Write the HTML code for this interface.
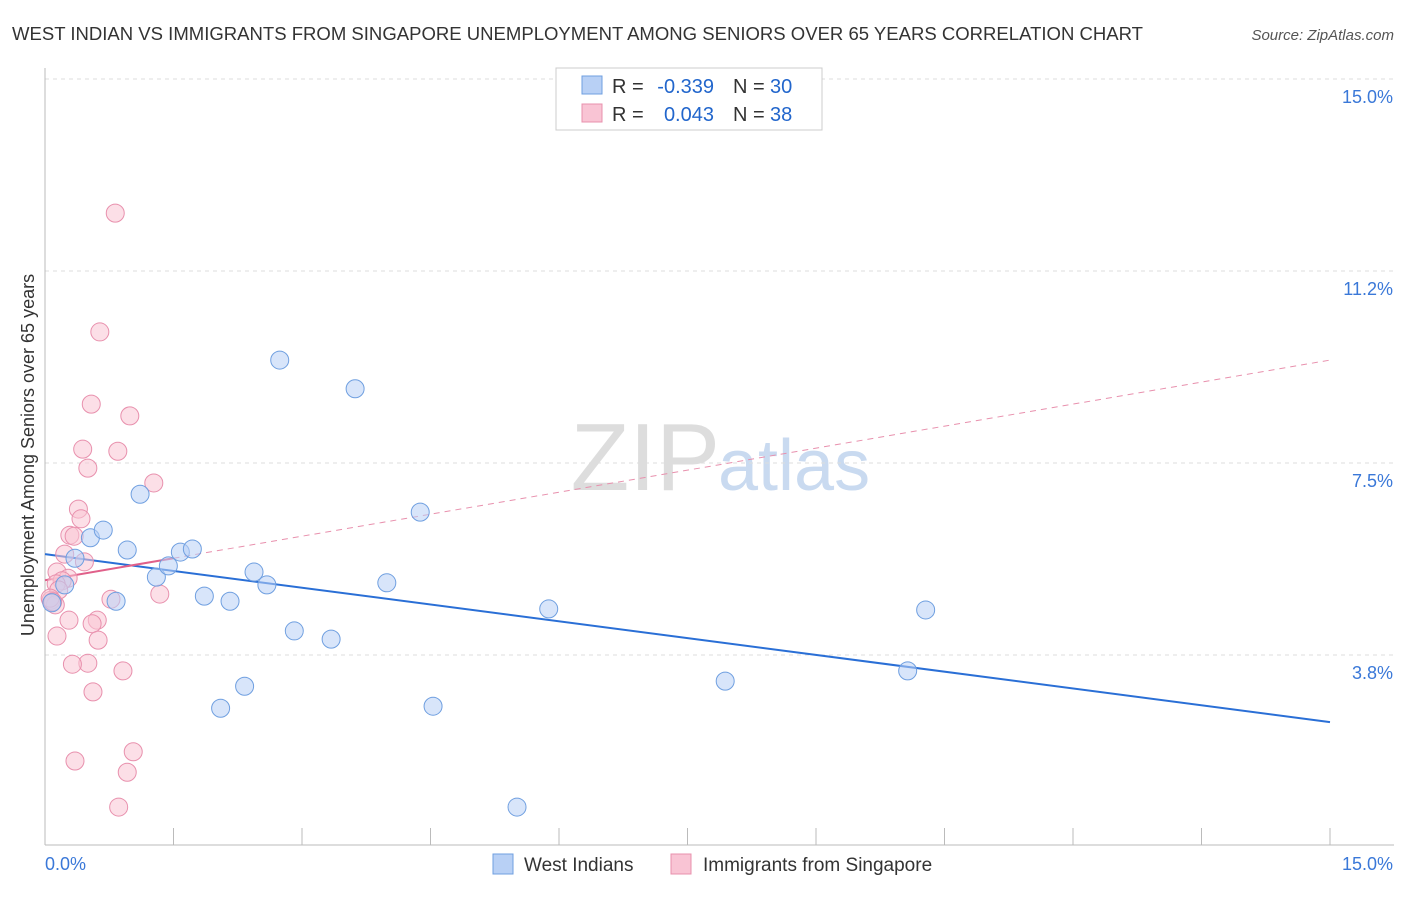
<!DOCTYPE html>
<html><head><meta charset="utf-8">
<style>
body{margin:0;background:#fff;font-family:"Liberation Sans",sans-serif;}
svg text{font-family:"Liberation Sans",sans-serif;}
</style></head>
<body>
<svg id="chart" width="1406" height="892" xmlns="http://www.w3.org/2000/svg">
<text x="12" y="40" font-size="18" fill="#333" textLength="1131" lengthAdjust="spacingAndGlyphs">WEST INDIAN VS IMMIGRANTS FROM SINGAPORE UNEMPLOYMENT AMONG SENIORS OVER 65 YEARS CORRELATION CHART</text>
<text x="1394" y="40" font-size="15" fill="#555" font-style="italic" text-anchor="end">Source: ZipAtlas.com</text>
<text x="720" y="490" font-size="96" fill="#ddd" text-anchor="end" font-family="Liberation Serif">ZIP</text>
<text x="718" y="490" font-size="72" fill="#c9daf0">atlas</text>
<g id="grid"></g>
<g id="axes"></g>
<g id="lines"></g>
<g id="points"></g>
<text transform="translate(34,455) rotate(-90)" font-size="18" fill="#333" text-anchor="middle">Unemployment Among Seniors over 65 years</text>
<g>
<rect x="556" y="68" width="266" height="62" fill="#fff" stroke="#ccc"/>
<rect x="582" y="76" width="20" height="18" fill="#b8d0f5" stroke="#6f9fe0"/>
<rect x="582" y="104" width="20" height="18" fill="#f9c4d4" stroke="#e890ad"/>
<text x="612" y="93" font-size="20" fill="#333">R =</text>
<text x="714" y="93" font-size="20" fill="#2266cc" text-anchor="end">-0.339</text>
<text x="733" y="93" font-size="20" fill="#333">N =</text>
<text x="770" y="93" font-size="20" fill="#2266cc">30</text>
<text x="612" y="121" font-size="20" fill="#333">R =</text>
<text x="714" y="121" font-size="20" fill="#2266cc" text-anchor="end">0.043</text>
<text x="733" y="121" font-size="20" fill="#333">N =</text>
<text x="770" y="121" font-size="20" fill="#2266cc">38</text>
</g>
<g>
<rect x="493" y="854" width="20" height="20" fill="#b8d0f5" stroke="#6f9fe0"/>
<text x="524" y="871" font-size="19" fill="#333">West Indians</text>
<rect x="671" y="854" width="20" height="20" fill="#f9c4d4" stroke="#e890ad"/>
<text x="703" y="871" font-size="19" fill="#333">Immigrants from Singapore</text>
</g>
</svg>
<script>
const blueX=[0.08,0.23,0.35,0.53,0.68,0.83,0.96,1.11,1.30,1.44,1.58,1.72,1.86,2.05,2.16,2.33,2.44,2.59,2.74,2.91,3.34,3.62,3.99,4.38,4.53,5.51,5.88,7.94,10.07,10.28];
const blueY=[4.77,5.12,5.64,6.04,6.19,4.80,5.80,6.89,5.27,5.49,5.76,5.82,4.90,2.71,4.80,3.14,5.37,5.12,9.51,4.22,4.06,8.95,5.16,6.54,2.75,0.78,4.65,3.24,3.44,4.63];
const pinkX=[0.82,0.64,0.54,0.99,0.44,0.85,0.50,1.27,0.39,0.42,0.29,0.34,0.23,0.46,0.14,0.27,0.20,0.13,0.16,0.07,0.12,1.34,0.77,0.61,0.28,0.55,0.14,0.62,0.50,0.32,0.56,0.91,1.03,0.35,0.96,0.86,0.06,0.09];
const pinkY=[12.38,10.06,8.65,8.42,7.77,7.73,7.40,7.11,6.60,6.41,6.09,6.07,5.72,5.57,5.37,5.25,5.20,5.14,5.02,4.82,4.73,4.94,4.84,4.43,4.43,4.36,4.12,4.04,3.59,3.57,3.03,3.44,1.86,1.68,1.46,0.78,4.86,4.79];
const blueTrend=[5.72,2.44];
const pinkTrend=[5.21,9.51];
const yTicks=[3.75,7.5,11.25,15];
const yTickLabels=["3.8%","7.5%","11.2%","15.0%"];
const xTicks=[0,1.5,3,4.5,6,7.5,9,10.5,12,13.5,15];
const NS="http://www.w3.org/2000/svg";
const X0=45,X1=1330,Y0=847,Y15=79;
const sx=v=>X0+(X1-X0)*v/15;
const sy=v=>Y0+(Y15-Y0)*v/15;
function mk(tag,attrs,parent){const e=document.createElementNS(NS,tag);for(const k in attrs)e.setAttribute(k,attrs[k]);document.getElementById(parent).appendChild(e);return e;}
yTicks.forEach((t,i)=>{
 const g=mk('line',{x1:X0,x2:1394,y1:sy(t),y2:sy(t),stroke:'#ddd','stroke-dasharray':'4,4'},'grid');
 
 
 const l=mk('text',{x:1393,y:sy(t)+24,'font-size':18,fill:'#3a78d8','text-anchor':'end'},'axes');
 l.textContent=yTickLabels[i];
 
 
});
const ya=mk('line',{x1:X0,x2:X0,y1:68,y2:845,stroke:'#bbb'},'axes');


const xa=mk('line',{x1:X0,x2:1394,y1:845,y2:845,stroke:'#bbb'},'axes');


xTicks.forEach(t=>{
 const tk=mk('line',{x1:sx(t),x2:sx(t),y1:828,y2:845,stroke:'#bbb'},'axes');
 
 
});
const xl0=mk('text',{x:45,y:870,'font-size':18,fill:'#3a78d8'},'axes');xl0.textContent='0.0%';


const xl1=mk('text',{x:1393,y:870,'font-size':18,fill:'#3a78d8','text-anchor':'end'},'axes');xl1.textContent='15.0%';


function addPts(xs,ys,fill,stroke,name){xs.forEach((x,i)=>{
 const c=mk('circle',{cx:sx(x),cy:sy(ys[i]),r:9,fill:fill,'fill-opacity':0.55,stroke:stroke,'stroke-width':1},'points');
 
 
});}
addPts(pinkX,pinkY,'#f9c4d4','#e890ad','singapore-point');
addPts(blueX,blueY,'#b8d0f5','#6f9fe0','west-indian-point');
const bl=mk('line',{x1:sx(0),y1:sy(blueTrend[0]),x2:sx(15),y2:sy(blueTrend[1]),stroke:'#2a6fd6','stroke-width':2},'lines');


const pAt=v=>pinkTrend[0]+(pinkTrend[1]-pinkTrend[0])*v/15;
const pd=mk('line',{x1:sx(1.5),y1:sy(pAt(1.5)),x2:sx(15),y2:sy(pinkTrend[1]),stroke:'#e890ad','stroke-width':1,'stroke-dasharray':'6,5'},'lines');


const ps=mk('line',{x1:sx(0),y1:sy(pinkTrend[0]),x2:sx(1.5),y2:sy(pAt(1.5)),stroke:'#e0608a','stroke-width':2},'lines');


</script>
</body></html>
